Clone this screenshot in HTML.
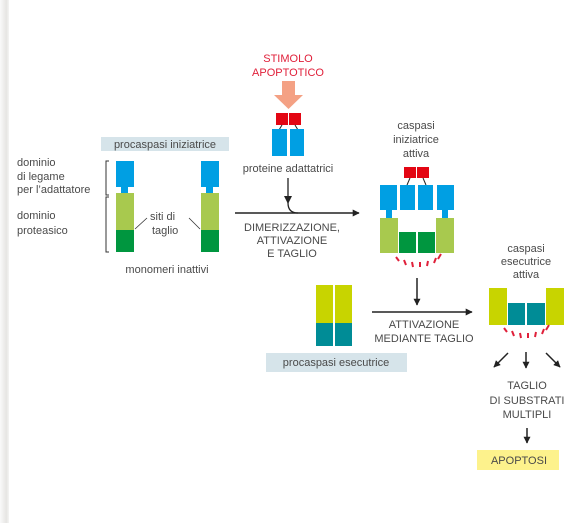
<!DOCTYPE html>
<html><head><meta charset="utf-8"><style>
html,body{margin:0;padding:0;background:#fff}
svg{display:block}
text{font-family:"Liberation Sans",sans-serif;font-size:11px;fill:#4a4a4a}
.r{fill:#e0203a}
.c{text-anchor:middle}
</style></head><body>
<svg width="574" height="523" viewBox="0 0 574 523" xmlns="http://www.w3.org/2000/svg">
<defs>
<linearGradient id="g" x1="0" x2="1"><stop offset="0" stop-color="#fafafa"/><stop offset="0.7" stop-color="#e6e5e3"/><stop offset="1" stop-color="#f4f4f3"/></linearGradient>
<marker id="a" viewBox="0 0 10 10" refX="9" refY="5" markerWidth="7" markerHeight="7" orient="auto" markerUnits="userSpaceOnUse"><path d="M0,0 L10,5 L0,10 Z" fill="#222"/></marker>
<g id="ticks" stroke="#e0203a" stroke-width="2">
<line x1="-21" y1="0" x2="-18" y2="4"/><line x1="-13" y1="3" x2="-11" y2="8"/><line x1="-5" y1="5" x2="-4" y2="10"/><line x1="3" y1="5" x2="3" y2="10"/><line x1="11" y1="4" x2="10" y2="9"/><line x1="19" y1="1" x2="17" y2="6"/><line x1="24" y1="-3" x2="21" y2="2"/>
</g>
</defs>
<rect x="0" y="0" width="9" height="523" fill="url(#g)"/>

<text x="17" y="166">dominio</text>
<text x="17" y="180">di legame</text>
<text x="17" y="193">per l’adattatore</text>
<text x="17" y="219">dominio</text>
<text x="17" y="234">proteasico</text>
<path d="M109,161 H106 V195 H109 M109,197 H106 V252 H109" fill="none" stroke="#333" stroke-width="1"/>

<rect x="101" y="137" width="128" height="14" fill="#d6e4ea"/>
<text x="165" y="148" class="c">procaspasi iniziatrice</text>

<rect x="116" y="161" width="18" height="26" fill="#009fe3"/>
<rect x="121" y="187" width="7" height="6" fill="#009fe3"/>
<rect x="116" y="193" width="18" height="37" fill="#a8c94e"/>
<rect x="116" y="230" width="18" height="22" fill="#00963f"/>
<rect x="201" y="161" width="18" height="26" fill="#009fe3"/>
<rect x="206" y="187" width="7" height="6" fill="#009fe3"/>
<rect x="201" y="193" width="18" height="37" fill="#a8c94e"/>
<rect x="201" y="230" width="18" height="22" fill="#00963f"/>
<line x1="135" y1="229" x2="147" y2="218" stroke="#333" stroke-width="0.8"/>
<line x1="200" y1="229" x2="189" y2="218" stroke="#333" stroke-width="0.8"/>
<text x="150" y="220">siti di</text>
<text x="152" y="234">taglio</text>
<text x="167" y="273" class="c">monomeri inattivi</text>

<text x="288" y="62" class="c r">STIMOLO</text>
<text x="288" y="76" class="c r">APOPTOTICO</text>
<path d="M282,81 H295 V95 H303 L288.5,109 L274,95 H282 Z" fill="#f4a184"/>
<rect x="276" y="113" width="12" height="12" fill="#e30613"/>
<rect x="289" y="113" width="12" height="12" fill="#e30613"/>
<line x1="282" y1="125" x2="279" y2="130" stroke="#222"/>
<line x1="295" y1="125" x2="298" y2="130" stroke="#222"/>
<rect x="272" y="129" width="15" height="27" fill="#009fe3"/>
<rect x="290" y="129" width="14" height="27" fill="#009fe3"/>
<text x="288" y="172" class="c">proteine adattatrici</text>
<path d="M288,178 V203 Q288,213 298,213" fill="none" stroke="#222" stroke-width="1.3"/>
<path d="M284,196 L288,204 L292,196 Z" fill="#222"/>
<line x1="235" y1="213" x2="359" y2="213" stroke="#222" stroke-width="1.5" marker-end="url(#a)"/>
<text x="292" y="231" class="c">DIMERIZZAZIONE,</text>
<text x="292" y="244" class="c">ATTIVAZIONE</text>
<text x="292" y="257" class="c">E TAGLIO</text>

<text x="416" y="129" class="c">caspasi</text>
<text x="416" y="143" class="c">iniziatrice</text>
<text x="416" y="157" class="c">attiva</text>
<rect x="404" y="167" width="12" height="11" fill="#e30613"/>
<rect x="417" y="167" width="12" height="11" fill="#e30613"/>
<line x1="410" y1="178" x2="407" y2="185" stroke="#222"/>
<line x1="423" y1="178" x2="426" y2="185" stroke="#222"/>
<rect x="380" y="185" width="17" height="25" fill="#009fe3"/>
<rect x="400" y="185" width="15" height="25" fill="#009fe3"/>
<rect x="418" y="185" width="15" height="25" fill="#009fe3"/>
<rect x="437" y="185" width="17" height="25" fill="#009fe3"/>
<rect x="386" y="210" width="6" height="8" fill="#009fe3"/>
<rect x="442" y="210" width="6" height="8" fill="#009fe3"/>
<rect x="380" y="218" width="18" height="35" fill="#a8c94e"/>
<rect x="436" y="218" width="18" height="35" fill="#a8c94e"/>
<rect x="399" y="232" width="17" height="21" fill="#00963f"/>
<rect x="418" y="232" width="17" height="21" fill="#00963f"/>
<use href="#ticks" x="417" y="257"/>
<line x1="417" y1="278" x2="417" y2="305" stroke="#222" stroke-width="1.5" marker-end="url(#a)"/>
<line x1="372" y1="312" x2="472" y2="312" stroke="#222" stroke-width="1.5" marker-end="url(#a)"/>
<text x="424" y="328" class="c">ATTIVAZIONE</text>
<text x="424" y="342" class="c">MEDIANTE TAGLIO</text>

<rect x="316" y="285" width="17" height="38" fill="#c8d400"/>
<rect x="335" y="285" width="17" height="38" fill="#c8d400"/>
<rect x="316" y="323" width="17" height="23" fill="#008c96"/>
<rect x="335" y="323" width="17" height="23" fill="#008c96"/>
<rect x="266" y="353" width="141" height="19" fill="#d6e4ea"/>
<text x="336" y="366" class="c">procaspasi esecutrice</text>

<text x="526" y="252" class="c">caspasi</text>
<text x="526" y="265" class="c">esecutrice</text>
<text x="526" y="278" class="c">attiva</text>
<rect x="489" y="288" width="18" height="37" fill="#c8d400"/>
<rect x="546" y="288" width="18" height="37" fill="#c8d400"/>
<rect x="508" y="303" width="17" height="22" fill="#008c96"/>
<rect x="527" y="303" width="18" height="22" fill="#008c96"/>
<use href="#ticks" x="525" y="328"/>
<line x1="508" y1="353" x2="494" y2="367" stroke="#222" stroke-width="1.5" marker-end="url(#a)"/>
<line x1="526" y1="352" x2="526" y2="368" stroke="#222" stroke-width="1.5" marker-end="url(#a)"/>
<line x1="546" y1="353" x2="560" y2="367" stroke="#222" stroke-width="1.5" marker-end="url(#a)"/>
<text x="527" y="389" class="c">TAGLIO</text>
<text x="527" y="404" class="c">DI SUBSTRATI</text>
<text x="527" y="418" class="c">MULTIPLI</text>
<line x1="527" y1="428" x2="527" y2="443" stroke="#222" stroke-width="1.5" marker-end="url(#a)"/>
<rect x="477" y="450" width="82" height="20" fill="#fdf28c"/>
<text x="519" y="464" class="c">APOPTOSI</text>
</svg>
</body></html>
